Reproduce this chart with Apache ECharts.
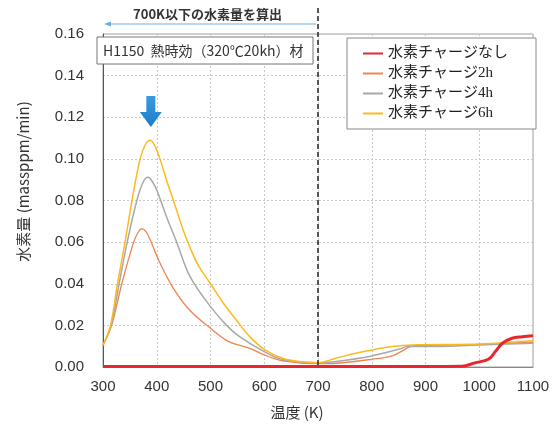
<!DOCTYPE html>
<html>
<head>
<meta charset="utf-8">
<script src="https://cdn.jsdelivr.net/npm/echarts@6/dist/echarts.min.js"></script>
<style>
  html, body { margin: 0; padding: 0; background: #fff; }
  #chart { width: 559px; height: 429px; }
</style>
</head>
<body>
<div id="chart"></div>
<script>
// Hydrogen desorption rate vs temperature (TDS), H1150 aged material
const xTicks = [300, 400, 500, 600, 700, 800, 900, 1000, 1100];
const yTicks = [0, 0.02, 0.04, 0.06, 0.08, 0.10, 0.12, 0.14, 0.16];

const seriesNames = ['水素チャージなし', '水素チャージ2h', '水素チャージ4h', '水素チャージ6h'];

// No hydrogen charge
const tempNone = [300, 500, 700, 900, 968, 992, 1017, 1030, 1043, 1061, 1080, 1100];
const valNone  = [0.0003, 0.0003, 0.0003, 0.0003, 0.0004, 0.002, 0.0037, 0.0074, 0.0114, 0.0138, 0.0145, 0.015];

// 2h charge
const temp2h = [300, 316, 335, 357, 366, 372, 380, 388, 406, 431, 461, 500, 534, 573, 600, 634, 700, 733, 800, 838, 862, 875, 1000, 1100];
const val2h  = [0.0105, 0.020, 0.040, 0.060, 0.065, 0.0665, 0.065, 0.061, 0.050, 0.0378, 0.0274, 0.0186, 0.0122, 0.009, 0.0058, 0.003, 0.0016, 0.0018, 0.0037, 0.0053, 0.0085, 0.0101, 0.0109, 0.0119];

// 4h charge
const temp4h = [300, 315, 330, 345, 363, 375, 384, 392, 400, 418, 437, 462, 500, 530, 554, 600, 634, 700, 733, 800, 850, 868, 900, 1000, 1100];
const val4h  = [0.0105, 0.020, 0.040, 0.060, 0.080, 0.089, 0.0912, 0.089, 0.085, 0.0723, 0.060, 0.0434, 0.029, 0.020, 0.0146, 0.0074, 0.0036, 0.002, 0.0026, 0.0053, 0.0085, 0.0098, 0.0098, 0.0106, 0.0114];

// 6h charge
const temp6h = [300, 314, 327, 341, 354, 369, 380, 388, 397, 406, 418, 431, 449, 461, 477, 500, 523, 548, 573, 600, 634, 665, 700, 733, 770, 800, 838, 875, 1000, 1100];
const val6h  = [0.0105, 0.020, 0.040, 0.060, 0.080, 0.100, 0.1075, 0.109, 0.106, 0.100, 0.090, 0.080, 0.066, 0.058, 0.049, 0.040, 0.031, 0.0226, 0.0146, 0.0085, 0.0042, 0.0026, 0.0021, 0.0042, 0.0066, 0.0082, 0.0098, 0.0106, 0.011, 0.0127];

const zip = (xs, ys) => xs.map((x, i) => [x, ys[i]]);

const FONT = '"Liberation Sans", Arial, "Noto Sans CJK JP", sans-serif';
const JP = '"Noto Sans CJK JP", "Liberation Sans", sans-serif';
// Latin glyphs in serif, Japanese glyphs fall back to the CJK face
const LEGEND_FONT = '"Liberation Serif", "Noto Sans CJK JP", serif';

const chart = echarts.init(document.getElementById('chart'));

const lineBase = { type: 'line', smooth: 0.35, showSymbol: false };

chart.setOption({
  animation: false,
  backgroundColor: '#fff',
  grid: {
    left: 103, right: 26, top: 34, bottom: 62,
    show: true, borderColor: '#a0a0a0', borderWidth: 1
  },
  xAxis: {
    type: 'value', min: xTicks[0], max: xTicks[xTicks.length - 1], interval: 100,
    name: '温度 (K)', nameLocation: 'middle', nameGap: 38,
    nameTextStyle: { fontFamily: JP, fontSize: 15, color: '#333', padding: [0, 42, 0, 0] },
    axisLine: { lineStyle: { color: '#888', width: 1 } },
    axisTick: { show: false },
    axisLabel: { fontFamily: FONT, fontSize: 15, color: '#333', margin: 12,
      formatter: v => String(v) },
    splitLine: { show: true, lineStyle: { color: '#c8c8c8', type: [2, 2] } }
  },
  yAxis: {
    type: 'value', min: yTicks[0], max: yTicks[yTicks.length - 1], interval: 0.02,
    name: '水素量 (massppm/min)', nameLocation: 'middle', nameGap: 72,
    nameTextStyle: { fontFamily: JP, fontSize: 15, color: '#333', padding: [0, 0, 0, 38] },
    axisLine: { show: true, lineStyle: { color: '#555', width: 1 } },
    axisTick: { show: false },
    axisLabel: { fontFamily: FONT, fontSize: 15, color: '#333', margin: 19,
      formatter: v => v.toFixed(2) },
    splitLine: { show: true, lineStyle: { color: '#c8c8c8', type: [2, 2] } }
  },
  legend: {
    orient: 'vertical', left: 347, top: 38,
    padding: [7, 28, 7, 16],
    itemGap: 3, itemWidth: 20, itemHeight: 2,
    icon: 'rect',
    borderColor: '#888', borderWidth: 1, backgroundColor: '#fff',
    data: seriesNames.slice(),
    textStyle: { fontFamily: LEGEND_FONT, fontSize: 15, color: '#222', lineHeight: 17 }
  },
  series: [
    Object.assign({}, lineBase, {
      name: seriesNames[1], data: zip(temp2h, val2h),
      lineStyle: { color: '#EE8550', width: 1.3 }, itemStyle: { color: '#EE8550' }
    }),
    Object.assign({}, lineBase, {
      name: seriesNames[2], data: zip(temp4h, val4h),
      lineStyle: { color: '#A8A8A8', width: 1.5 }, itemStyle: { color: '#A8A8A8' }
    }),
    Object.assign({}, lineBase, {
      name: seriesNames[3], data: zip(temp6h, val6h),
      lineStyle: { color: '#FDBA1E', width: 1.5 }, itemStyle: { color: '#FDBA1E' },
      markPoint: {
        silent: true,
        symbol: 'path://M6.5,0 L15.5,0 L15.5,16 L22,16 L11,31 L0,16 L6.5,16 Z',
        symbolSize: [22, 31],
        label: { show: false },
        itemStyle: {
          color: new echarts.graphic.LinearGradient(0, 0, 0, 1, [
            { offset: 0, color: '#3A9BE0' }, { offset: 1, color: '#1E7CC8' }
          ])
        },
        data: [{ coord: [389, 0.1228] }]
      }
    }),
    Object.assign({}, lineBase, {
      name: seriesNames[0], data: zip(tempNone, valNone),
      lineStyle: { color: '#E8262C', width: 3 }, itemStyle: { color: '#E8262C' }
    })
  ]
});

// Annotation: 700 K boundary, "below 700K" arrow and the material label box
const px700 = chart.convertToPixel({ xAxisIndex: 0 }, 700);
const px300 = chart.convertToPixel({ xAxisIndex: 0 }, 300);
const pyBase = chart.convertToPixel({ yAxisIndex: 0 }, 0);

chart.setOption({
  graphic: [
    {
      type: 'line', z: 10,
      shape: { x1: px700, y1: 8, x2: px700, y2: pyBase },
      style: { stroke: '#222', lineWidth: 1.5, lineDash: [5, 3] }
    },
    {
      type: 'line', z: 10,
      shape: { x1: px700 - 2, y1: 24, x2: px300 + 4, y2: 24 },
      style: { stroke: '#6AAEE0', lineWidth: 1 }
    },
    {
      type: 'polygon', z: 10,
      shape: { points: [[px300 + 1, 24], [px300 + 8, 21.5], [px300 + 8, 26.5]] },
      style: { fill: '#6AAEE0' }
    },
    {
      type: 'text', z: 10,
      x: (px300 + px700) / 2 - 3, y: 14,
      style: {
        text: '700K以下の水素量を算出', fontFamily: JP, fontSize: 13, fontWeight: 'bold',
        fill: '#333', align: 'center', verticalAlign: 'middle'
      }
    },
    {
      type: 'rect', z: 10,
      shape: { x: 97, y: 37, width: 216, height: 27 },
      style: { fill: '#fff', stroke: '#777', lineWidth: 1 }
    },
    {
      type: 'text', z: 11,
      x: 103, y: 51,
      style: {
        text: 'H1150  熱時効（320℃20kh）材', fontFamily: JP, fontSize: 14,
        fill: '#333', verticalAlign: 'middle'
      }
    }
  ]
});
</script>
</body>
</html>
